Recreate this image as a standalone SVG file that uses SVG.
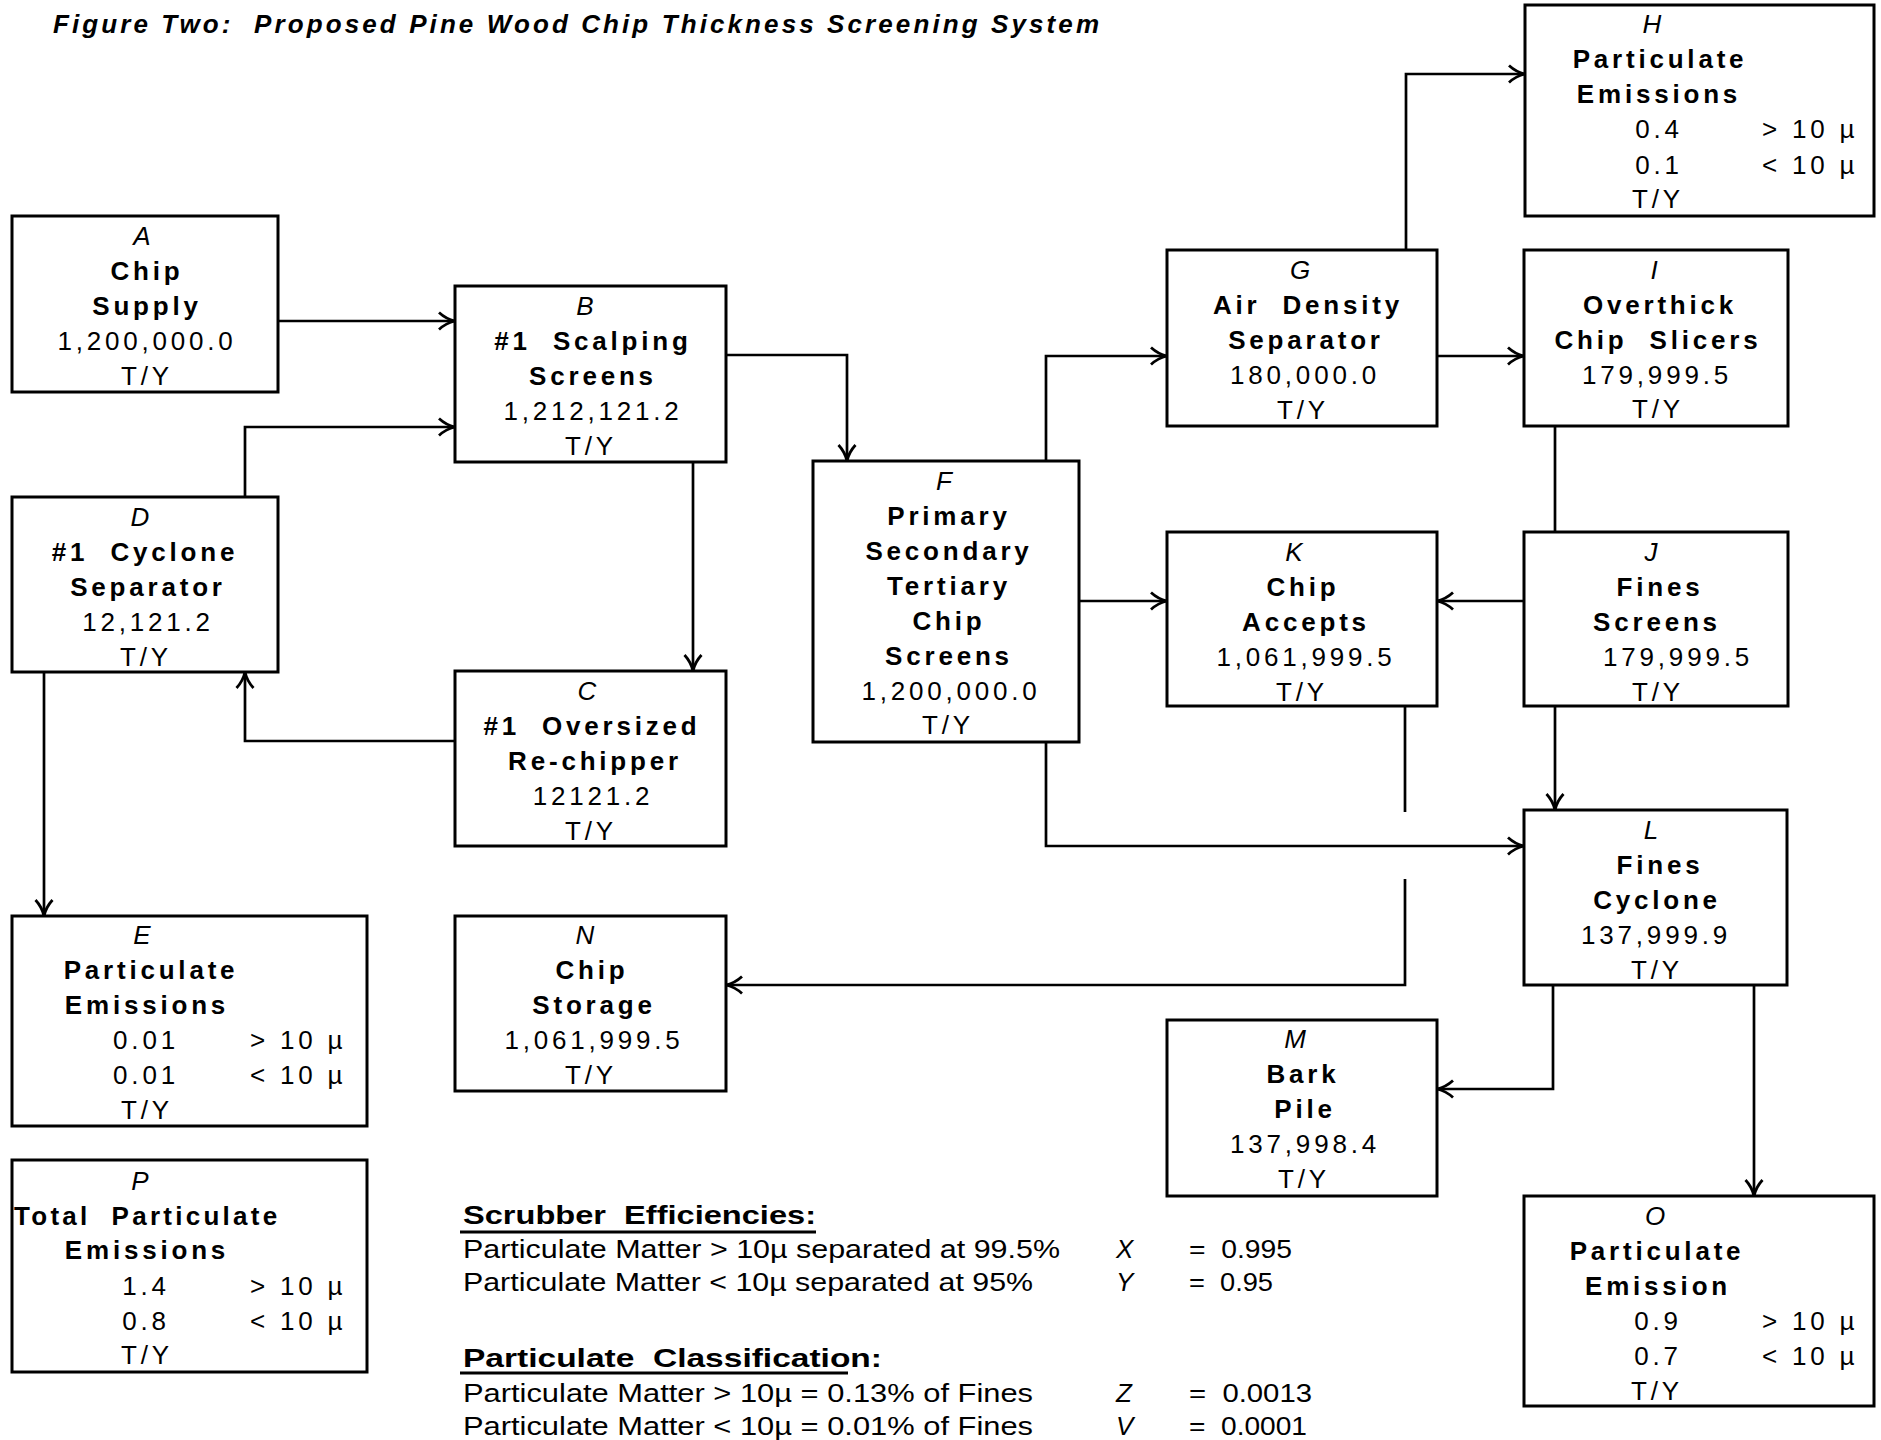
<svg xmlns="http://www.w3.org/2000/svg" width="1881" height="1440" viewBox="0 0 1881 1440" xml:space="preserve">
<style>
.bg{fill:#fff}
.box{fill:#fff;stroke:#000;stroke-width:3}
.conn{fill:none;stroke:#000;stroke-width:2.7}
text{font-family:"Liberation Sans",Arial,Helvetica,sans-serif;font-size:26px;fill:#000;white-space:pre}
.t{text-anchor:middle;letter-spacing:3.8px}
.s{letter-spacing:3.8px}
.b{font-weight:bold}
.i{font-style:italic;letter-spacing:0}
.title{font-weight:bold;font-style:italic;font-size:26px}
.note{font-size:26px}
.ul{stroke:#000;stroke-width:3}
</style>
<defs>
<marker id="arr" viewBox="0 0 18 20" refX="17" refY="10" markerWidth="18" markerHeight="20" markerUnits="userSpaceOnUse" orient="auto">
<path d="M1,1.5 Q8,8 17,10 Q8,12 1,18.5" fill="none" stroke="#000" stroke-width="2.8"/>
</marker>
</defs>
<rect class="bg" x="0" y="0" width="1881" height="1440"/>
<text class="title" x="53" y="33" textLength="1046" lengthAdjust="spacing">Figure Two:  Proposed Pine Wood Chip Thickness Screening System</text>

<g id="connectors">
<path class="conn" d="M278,321 H455" marker-end="url(#arr)"/>
<path class="conn" d="M245,497 V427 H455" marker-end="url(#arr)"/>
<path class="conn" d="M693,462 V671" marker-end="url(#arr)"/>
<path class="conn" d="M455,741 H245 V672" marker-end="url(#arr)"/>
<path class="conn" d="M44,672 V916" marker-end="url(#arr)"/>
<path class="conn" d="M726,355 H847 V461" marker-end="url(#arr)"/>
<path class="conn" d="M1046,461 V356 H1167" marker-end="url(#arr)"/>
<path class="conn" d="M1079,601 H1167" marker-end="url(#arr)"/>
<path class="conn" d="M1524,601 H1437" marker-end="url(#arr)"/>
<path class="conn" d="M1437,356 H1524" marker-end="url(#arr)"/>
<path class="conn" d="M1406,250 V74 H1525" marker-end="url(#arr)"/>
<path class="conn" d="M1555,426 V532"/>
<path class="conn" d="M1555,706 V810" marker-end="url(#arr)"/>
<path class="conn" d="M1046,742 V846 H1524" marker-end="url(#arr)"/>
<path class="conn" d="M1405,706 V812"/>
<path class="conn" d="M1405,879 V985 H726" marker-end="url(#arr)"/>
<path class="conn" d="M1553,985 V1089 H1437" marker-end="url(#arr)"/>
<path class="conn" d="M1754,985 V1196" marker-end="url(#arr)"/>
</g>

<g id="node-A">
<rect class="box" x="12" y="216" width="266" height="176"/>
<text class="t i" x="142" y="245">A</text>
<text class="t b" x="147" y="280">Chip</text>
<text class="t b" x="147" y="315">Supply</text>
<text class="t" x="147" y="350">1,200,000.0</text>
<text class="t" x="147" y="385">T/Y</text>
</g>

<g id="node-B">
<rect class="box" x="455" y="286" width="271" height="176"/>
<text class="t i" x="585" y="315">B</text>
<text class="t b" x="593" y="350">#1  Scalping</text>
<text class="t b" x="593" y="385">Screens</text>
<text class="t" x="593" y="420">1,212,121.2</text>
<text class="t" x="591" y="455">T/Y</text>
</g>

<g id="node-C">
<rect class="box" x="455" y="671" width="271" height="175"/>
<text class="t i" x="587" y="700">C</text>
<text class="t b" x="592" y="735">#1  Oversized</text>
<text class="t b" x="595" y="770">Re-chipper</text>
<text class="t" x="593" y="805">12121.2</text>
<text class="t" x="591" y="840">T/Y</text>
</g>

<g id="node-D">
<rect class="box" x="12" y="497" width="266" height="175"/>
<text class="t i" x="140" y="526">D</text>
<text class="t b" x="145" y="561">#1  Cyclone</text>
<text class="t b" x="148" y="596">Separator</text>
<text class="t" x="148" y="631">12,121.2</text>
<text class="t" x="146" y="666">T/Y</text>
</g>

<g id="node-E">
<rect class="box" x="12" y="916" width="355" height="210"/>
<text class="t i" x="142" y="944">E</text>
<text class="t b" x="151" y="979">Particulate</text>
<text class="t b" x="147" y="1014">Emissions</text>
<text class="t" x="146" y="1049">0.01</text>
<text class="s" x="250" y="1049">&gt; 10 µ</text>
<text class="t" x="146" y="1084">0.01</text>
<text class="s" x="250" y="1084">&lt; 10 µ</text>
<text class="t" x="147" y="1119">T/Y</text>
</g>

<g id="node-P">
<rect class="box" x="12" y="1160" width="355" height="212"/>
<text class="t i" x="140" y="1190">P</text>
<text class="s b" x="14" y="1225" textLength="267" lengthAdjust="spacing">Total  Particulate</text>
<text class="t b" x="147" y="1259">Emissions</text>
<text class="t" x="146" y="1295">1.4</text>
<text class="s" x="250" y="1295">&gt; 10 µ</text>
<text class="t" x="146" y="1330">0.8</text>
<text class="s" x="250" y="1330">&lt; 10 µ</text>
<text class="t" x="147" y="1364">T/Y</text>
</g>

<g id="node-N">
<rect class="box" x="455" y="916" width="271" height="175"/>
<text class="t i" x="585" y="944">N</text>
<text class="t b" x="592" y="979">Chip</text>
<text class="t b" x="594" y="1014">Storage</text>
<text class="t" x="594" y="1049">1,061,999.5</text>
<text class="t" x="591" y="1084">T/Y</text>
</g>

<g id="node-F">
<rect class="box" x="813" y="461" width="266" height="281"/>
<text class="t i" x="944" y="490">F</text>
<text class="t b" x="949" y="525">Primary</text>
<text class="t b" x="949" y="560">Secondary</text>
<text class="t b" x="949" y="595">Tertiary</text>
<text class="t b" x="949" y="630">Chip</text>
<text class="t b" x="949" y="665">Screens</text>
<text class="t" x="951" y="700">1,200,000.0</text>
<text class="t" x="948" y="734">T/Y</text>
</g>

<g id="node-G">
<rect class="box" x="1167" y="250" width="270" height="176"/>
<text class="t i" x="1300" y="279">G</text>
<text class="t b" x="1308" y="314">Air  Density</text>
<text class="t b" x="1306" y="349">Separator</text>
<text class="t" x="1305" y="384">180,000.0</text>
<text class="t" x="1303" y="419">T/Y</text>
</g>

<g id="node-K">
<rect class="box" x="1167" y="532" width="270" height="174"/>
<text class="t i" x="1294" y="561">K</text>
<text class="t b" x="1303" y="596">Chip</text>
<text class="t b" x="1306" y="631">Accepts</text>
<text class="t" x="1306" y="666">1,061,999.5</text>
<text class="t" x="1302" y="701">T/Y</text>
</g>

<g id="node-H">
<rect class="box" x="1525" y="5" width="349" height="211"/>
<text class="t i" x="1652" y="33">H</text>
<text class="t b" x="1660" y="68">Particulate</text>
<text class="t b" x="1659" y="103">Emissions</text>
<text class="t" x="1659" y="138">0.4</text>
<text class="s" x="1762" y="138">&gt; 10 µ</text>
<text class="t" x="1659" y="174">0.1</text>
<text class="s" x="1762" y="174">&lt; 10 µ</text>
<text class="t" x="1658" y="208">T/Y</text>
</g>

<g id="node-I">
<rect class="box" x="1524" y="250" width="264" height="176"/>
<text class="t i" x="1654" y="279">I</text>
<text class="t b" x="1660" y="314">Overthick</text>
<text class="t b" x="1658" y="349">Chip  Slicers</text>
<text class="t" x="1657" y="384">179,999.5</text>
<text class="t" x="1658" y="418">T/Y</text>
</g>

<g id="node-J">
<rect class="box" x="1524" y="532" width="264" height="174"/>
<text class="t i" x="1651" y="561">J</text>
<text class="t b" x="1660" y="596">Fines</text>
<text class="t b" x="1657" y="631">Screens</text>
<text class="t" x="1678" y="666">179,999.5</text>
<text class="t" x="1658" y="701">T/Y</text>
</g>

<g id="node-L">
<rect class="box" x="1524" y="810" width="263" height="175"/>
<text class="t i" x="1651" y="839">L</text>
<text class="t b" x="1660" y="874">Fines</text>
<text class="t b" x="1657" y="909">Cyclone</text>
<text class="t" x="1656" y="944">137,999.9</text>
<text class="t" x="1657" y="979">T/Y</text>
</g>

<g id="node-M">
<rect class="box" x="1167" y="1020" width="270" height="176"/>
<text class="t i" x="1295" y="1048">M</text>
<text class="t b" x="1303" y="1083">Bark</text>
<text class="t b" x="1305" y="1118">Pile</text>
<text class="t" x="1305" y="1153">137,998.4</text>
<text class="t" x="1304" y="1188">T/Y</text>
</g>

<g id="node-O">
<rect class="box" x="1524" y="1196" width="350" height="210"/>
<text class="t i" x="1655" y="1225">O</text>
<text class="t b" x="1657" y="1260">Particulate</text>
<text class="t b" x="1658" y="1295">Emission</text>
<text class="t" x="1658" y="1330">0.9</text>
<text class="s" x="1762" y="1330">&gt; 10 µ</text>
<text class="t" x="1658" y="1365">0.7</text>
<text class="s" x="1762" y="1365">&lt; 10 µ</text>
<text class="t" x="1657" y="1400">T/Y</text>
</g>

<g id="notes">
<text class="note b" x="463" y="1224" textLength="353" lengthAdjust="spacingAndGlyphs">Scrubber  Efficiencies:</text>
<line class="ul" x1="460" y1="1232" x2="816" y2="1232"/>
<text class="note" x="463" y="1258" textLength="597" lengthAdjust="spacingAndGlyphs">Particulate Matter &gt; 10µ separated at 99.5%</text>
<text class="note i" x="1116" y="1258">X</text>
<text class="note" x="1189" y="1258" textLength="103" lengthAdjust="spacingAndGlyphs">=  0.995</text>
<text class="note" x="463" y="1291" textLength="570" lengthAdjust="spacingAndGlyphs">Particulate Matter &lt; 10µ separated at 95%</text>
<text class="note i" x="1116" y="1291">Y</text>
<text class="note" x="1189" y="1291" textLength="84" lengthAdjust="spacingAndGlyphs">=  0.95</text>
<text class="note b" x="463" y="1367" textLength="419" lengthAdjust="spacingAndGlyphs">Particulate  Classification:</text>
<line class="ul" x1="460" y1="1373" x2="848" y2="1373"/>
<text class="note" x="463" y="1402" textLength="570" lengthAdjust="spacingAndGlyphs">Particulate Matter &gt; 10µ = 0.13% of Fines</text>
<text class="note i" x="1116" y="1402">Z</text>
<text class="note" x="1189" y="1402" textLength="123" lengthAdjust="spacingAndGlyphs">=  0.0013</text>
<text class="note" x="463" y="1435" textLength="570" lengthAdjust="spacingAndGlyphs">Particulate Matter &lt; 10µ = 0.01% of Fines</text>
<text class="note i" x="1116" y="1435">V</text>
<text class="note" x="1189" y="1435" textLength="118" lengthAdjust="spacingAndGlyphs">=  0.0001</text>
</g>
</svg>
